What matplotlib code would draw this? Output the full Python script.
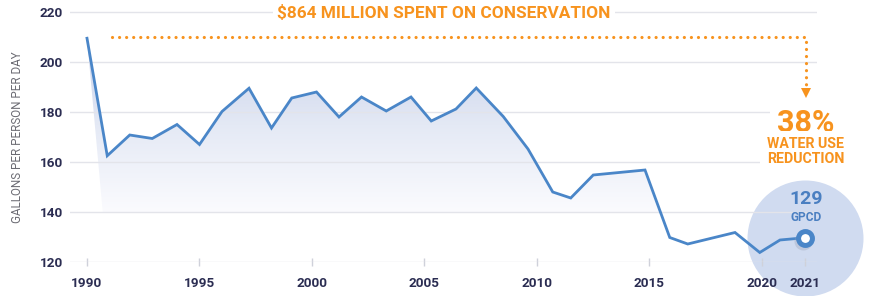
import numpy as np
import matplotlib
matplotlib.use("Agg")
import matplotlib.pyplot as plt
from matplotlib.colors import LinearSegmentedColormap
from matplotlib.patches import Polygon

plt.rcParams['font.family'] = ['Roboto', 'DejaVu Sans']

# ---- data ----
year_pos = [1990.0, 1990.9, 1991.9, 1992.9, 1994.0, 1995.0, 1996.0, 1997.2, 1998.2,
            1999.1, 2000.2, 2001.2, 2002.2, 2003.3, 2004.4, 2005.3, 2006.4, 2007.3,
            2008.5, 2009.6, 2010.7, 2011.5, 2012.5, 2014.8, 2015.9, 2016.7, 2018.8,
            2019.9, 2020.8, 2021.9]
gpcd = [209.5, 162.5, 170.8, 169.4, 175.0, 167.0, 180.2, 189.5, 173.6,
        185.6, 188.0, 178.0, 186.0, 180.4, 186.0, 176.4, 181.2, 189.6,
        178.2, 165.2, 148.0, 145.6, 154.8, 156.8, 129.8, 127.2, 131.8,
        123.8, 128.8, 129.7]
xtick_pos = [1990, 1995, 2000, 2005, 2010, 2015, 2020, 2021.9]
xtick_labels = ['1990', '1995', '2000', '2005', '2010', '2015', '2020', '2021']
yticks = [120, 140, 160, 180, 200, 220]
title_text = '$864 MILLION SPENT ON CONSERVATION'
pct_text = '38%'
pct_sub = 'WATER USE\nREDUCTION'
final_value = '129'
final_unit = 'GPCD'
ylabel = 'GALLONS PER PERSON PER DAY'

ORANGE = '#f7931e'
BLUE = '#4a86c8'
NAVY = '#2b2d52'
GRID = '#e3e4ea'

fig = plt.figure(figsize=(8.69, 2.96), dpi=100)
W, H = 869, 296
ax = fig.add_axes([70 / W, 34 / H, (817 - 70) / W, (262 - 7) / H])
x0 = 1990 - 17 / 22.5
x1 = 1990 + (817 - 87) / 22.5
ax.set_xlim(x0, x1)
ax.set_ylim(120, 222)
for s in ax.spines.values():
    s.set_visible(False)

xs = np.array(year_pos)
ys = np.array(gpcd)

# big circle behind the final point
ax.scatter([xs[-1]], [ys[-1]], s=(2 * 58 * 0.72) ** 2, color='#d0dbf0',
           zorder=1, clip_on=False, linewidths=0)

# gradient fill under the line, down to 140
k = int(np.argmax(ys < 140))
xc = xs[k - 1] + (140 - ys[k - 1]) * (xs[k] - xs[k - 1]) / (ys[k] - ys[k - 1])
verts = list(zip(xs[:k], ys[:k])) + [(xc, 140), (xs[0] + 0.7, 140)]
poly = Polygon(verts, closed=True, facecolor='none', edgecolor='none',
               transform=ax.transData)
ax.add_patch(poly)
cmap = LinearSegmentedColormap.from_list('g', ['#fbfbfe', '#e4e9f5', '#c6d0ea'])
grad = np.linspace(0, 1, 256).reshape(-1, 1)
im = ax.imshow(grad, extent=[x0, x1, 140, 210], origin='lower', cmap=cmap,
               aspect='auto', zorder=1.5, interpolation='bicubic')
im.set_clip_path(poly)

# gridlines
for yv in yticks:
    ax.axhline(yv, color=GRID, lw=1.0, zorder=2)

# line
ax.plot(xs, ys, color=BLUE, lw=2.0, zorder=4, solid_joinstyle='miter')

# final marker (with a soft shadow)
ax.plot([xs[-1] - 0.1], [ys[-1] - 1.2], 'o', ms=13, color='#9aa3b8', alpha=0.35,
        zorder=5, mew=0)
ax.plot([xs[-1]], [ys[-1]], 'o', ms=10, mfc='white', mec=BLUE, mew=3.6, zorder=6)

# ticks
ax.set_xticks(xtick_pos)
ax.set_xticklabels(xtick_labels)
ax.set_yticks(yticks)
ax.tick_params(axis='x', direction='inout', length=6, width=1, color='#cfd1da',
               pad=8, labelsize=9.7, labelcolor=NAVY)
ax.tick_params(axis='y', length=0, pad=5, labelsize=9.7, labelcolor=NAVY)
for lab in ax.get_xticklabels() + ax.get_yticklabels():
    lab.set_fontweight('bold')

fig.text(18 / W, 1 - 137 / H, ylabel, rotation=90, ha='center', va='center',
         fontsize=8.4, color='#6b6b73')

# title
ax.text(1990 + (444 - 87) / 22.5, 220, title_text, ha='center', va='center_baseline',
        fontsize=12.4, fontweight='bold', color=ORANGE, zorder=7,
        bbox=dict(facecolor='white', edgecolor='none', pad=3))

# dotted arrow
ax.plot([1990 + (112 - 87) / 22.5, xs[-1] + 0.05, xs[-1] + 0.05], [210, 210, 189.5],
        color=ORANGE, lw=2.3, dashes=(0.01, 2.2), dash_capstyle='round',
        solid_capstyle='round', zorder=7, clip_on=False)
ax.plot([xs[-1] + 0.05], [187.8], marker='v', ms=7, color=ORANGE, mew=0, zorder=7,
        clip_on=False)

# 38% block
ax.text(xs[-1] + 0.05, 177.0, pct_text, ha='center', va='center_baseline', fontsize=22,
        fontweight='bold', color=ORANGE, zorder=7, clip_on=False,
        bbox=dict(facecolor='white', edgecolor='none', pad=5))
ax.text(xs[-1] + 0.05, 164.1, pct_sub, ha='center', va='center', fontsize=10.2,
        fontweight='bold', color=ORANGE, zorder=7, linespacing=1.05, clip_on=False,
        bbox=dict(facecolor='white', edgecolor='none', pad=5))

# 129 GPCD
ax.text(xs[-1] + 0.05, 146.0, final_value, ha='center', va='center_baseline', fontsize=14,
        fontweight='bold', color='#4a7fc1', zorder=7)
ax.text(xs[-1] + 0.05, 138.4, final_unit, ha='center', va='center_baseline', fontsize=8.6,
        fontweight='bold', color='#4a7fc1', zorder=7)

fig.savefig('out.png', dpi=100, facecolor='white')
